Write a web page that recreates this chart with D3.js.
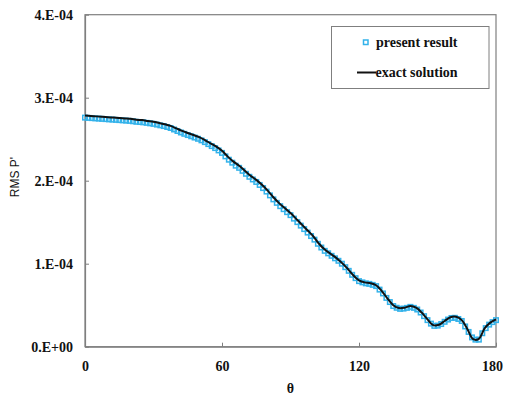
<!DOCTYPE html>
<html><head><meta charset="utf-8">
<script src="https://cdn.jsdelivr.net/npm/d3@7"></script>
<style>
body{margin:0;background:#fff;}
svg{display:block;}
.tick text{font-family:"Liberation Serif","Times New Roman",serif;font-weight:bold;font-size:14px;fill:#111;}
</style></head><body>
<svg id="c" width="505" height="397"></svg>
<script>
// theta values (degrees)
const exactTheta = d3.range(0, 180.01, 2.5);
// exact solution, RMS P' in units of 1e-4
const exactValues = [2.785,2.78,2.775,2.77,2.765,2.76,2.755,2.75,2.745,2.735,2.73,2.72,2.71,2.695,2.68,2.66,2.63,2.60,2.575,2.55,2.525,2.49,2.45,2.41,2.36,2.29,2.23,2.18,2.12,2.06,2.01,1.95,1.88,1.80,1.73,1.67,1.61,1.54,1.47,1.40,1.33,1.24,1.17,1.12,1.07,1.01,0.94,0.86,0.80,0.775,0.765,0.74,0.67,0.58,0.50,0.465,0.47,0.49,0.47,0.41,0.33,0.26,0.265,0.31,0.355,0.36,0.32,0.21,0.09,0.095,0.22,0.29,0.33];
const presentTheta = d3.range(0, 180.01, 1.5);
// present result, RMS P' in units of 1e-4
const presentValues = [2.76,2.757,2.754,2.751,2.748,2.745,2.742,2.739,2.736,2.733,2.73,2.727,2.724,2.721,2.716,2.71,2.707,2.703,2.697,2.691,2.685,2.676,2.667,2.658,2.647,2.635,2.617,2.599,2.581,2.565,2.55,2.535,2.52,2.505,2.486,2.465,2.441,2.417,2.393,2.365,2.335,2.293,2.253,2.217,2.181,2.155,2.119,2.083,2.047,2.015,1.985,1.949,1.911,1.869,1.823,1.775,1.733,1.693,1.657,1.621,1.585,1.543,1.501,1.459,1.417,1.375,1.333,1.29,1.24,1.195,1.155,1.125,1.095,1.065,1.035,1.0,0.958,0.914,0.866,0.826,0.79,0.775,0.763,0.757,0.745,0.73,0.688,0.642,0.588,0.538,0.49,0.469,0.456,0.459,0.468,0.48,0.468,0.448,0.412,0.368,0.32,0.278,0.251,0.254,0.273,0.30,0.327,0.346,0.348,0.334,0.31,0.244,0.178,0.112,0.085,0.085,0.162,0.224,0.266,0.296,0.32];
const xTicks = [0, 60, 120, 180];
const yTicks = [0, 1e-4, 2e-4, 3e-4, 4e-4];
const yTickLabels = ["0.E+00", "1.E-04", "2.E-04", "3.E-04", "4.E-04"];
const legendLabels = ["present result", "exact solution"];

const svg = d3.select("#c");
const L = 85, R = 496, T = 14.7, B = 346.7;
const x = d3.scaleLinear().domain([0, 180]).range([L, R]);
const y = d3.scaleLinear().domain([0, 4e-4]).range([B, T]);

const cyan = "#33b2ea";

// frame
svg.append("rect").attr("x", L).attr("y", T).attr("width", R - L).attr("height", B - T)
  .attr("fill", "none").attr("stroke", "#7f7f7f").attr("stroke-width", 1.2);

// axes
const xAxis = svg.append("g").attr("transform", `translate(0,${B})`)
  .call(d3.axisBottom(x).tickValues(xTicks).tickSizeInner(-4).tickSizeOuter(0).tickPadding(14));
xAxis.select(".domain").attr("stroke", "#7f7f7f").attr("stroke-width", 1.2);
xAxis.selectAll(".tick line").attr("stroke", "#7f7f7f");
xAxis.selectAll(".tick text").attr("font-size", 13)
  .attr("dx", d => d === 180 ? "-4" : "0");

const yAxis = svg.append("g").attr("transform", `translate(${L},0)`)
  .call(d3.axisLeft(y).tickValues(yTicks).tickFormat((d, i) => yTickLabels[i]).tickSizeInner(-4).tickSizeOuter(0).tickPadding(12));
yAxis.select(".domain").attr("stroke", "#7f7f7f").attr("stroke-width", 1.2);
yAxis.selectAll(".tick line").attr("stroke", "#7f7f7f");

// present result markers
const pts = presentTheta.map((t, i) => [t, presentValues[i] * 1e-4]);
svg.append("g").selectAll("rect").data(pts).join("rect")
  .attr("x", d => x(d[0]) - 2.25).attr("y", d => y(d[1]) - 2.25)
  .attr("width", 4.5).attr("height", 4.5)
  .attr("fill", "none").attr("stroke", cyan).attr("stroke-width", 1.5);

// exact solution line
const line = d3.line().x(d => x(d[0])).y(d => y(d[1])).curve(d3.curveCatmullRom);
svg.append("path").datum(exactTheta.map((t, i) => [t, exactValues[i] * 1e-4]))
  .attr("d", line).attr("fill", "none").attr("stroke", "#111").attr("stroke-width", 2);

// axis titles
svg.append("text").attr("x", x(90)).attr("y", 393).attr("text-anchor", "middle")
  .attr("font-family", "Liberation Serif, serif").attr("font-weight", "bold").attr("font-size", 14)
  .attr("fill", "#111").text("θ");
svg.append("text").attr("transform", "translate(19,177) rotate(-90)").attr("text-anchor", "middle")
  .attr("font-family", "Liberation Sans, Arial, sans-serif").attr("font-size", 12)
  .attr("fill", "#111").text("RMS P'");

// legend
const lg = svg.append("g");
lg.append("rect").attr("x", 331.5).attr("y", 26.5).attr("width", 157.5).attr("height", 62)
  .attr("fill", "#fff").attr("stroke", "#7f7f7f").attr("stroke-width", 1);
lg.append("rect").attr("x", 363.5).attr("y", 40).attr("width", 4.5).attr("height", 4.5)
  .attr("fill", "none").attr("stroke", cyan).attr("stroke-width", 1.5);
lg.append("line").attr("x1", 357).attr("x2", 376).attr("y1", 72.5).attr("y2", 72.5)
  .attr("stroke", "#111").attr("stroke-width", 2);
lg.selectAll("text.lt").data(legendLabels).join("text").attr("class", "lt")
  .attr("x", (d, i) => i === 0 ? 376 : 375.5).attr("y", (d, i) => i === 0 ? 46.5 : 76.5)
  .attr("font-family", "Liberation Serif, serif").attr("font-weight", "bold").attr("font-size", 14)
  .attr("fill", "#111").text(d => d);
</script></body></html>
